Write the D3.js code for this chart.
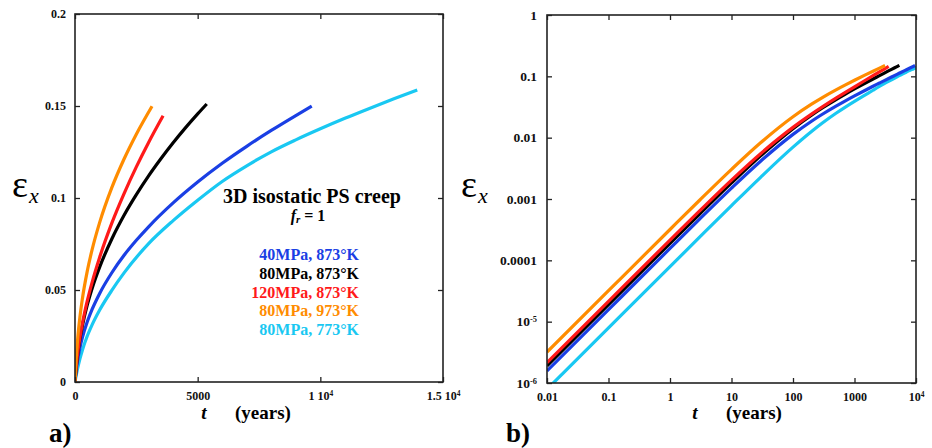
<!DOCTYPE html>
<html>
<head>
<meta charset="utf-8">
<script src="https://cdn.jsdelivr.net/npm/d3@7"></script>
<style>
  body { margin: 0; background: #fff; }
  svg text { font-family: "Liberation Serif", "Times New Roman", serif; }
</style>
</head>
<body>
<div id="chart"></div>
<script>
// ---- data (t in years, strain eps_x) ----
var seriesNames = ["40MPa, 873°K", "80MPa, 873°K", "120MPa, 873°K", "80MPa, 973°K", "80MPa, 773°K"];

var t40_873 = [0.01, 0.1, 1, 3, 10, 30, 100, 200, 300, 500, 700, 1000, 1500, 2000, 2500, 3000, 4000, 5000, 6000, 7000, 8000, 9000, 9650];
var eps40_873 = [1.57e-6, 1.57e-5, 1.563e-4, 4.65e-4, 1.503e-3, 4.17e-3, 0.01131, 0.01855, 0.02409, 0.03271, 0.03955, 0.0480, 0.05937, 0.06886, 0.0770, 0.08436, 0.09734, 0.1087, 0.1189, 0.1281, 0.1367, 0.1448, 0.1499];

var t80_873 = [0.01, 0.1, 1, 3, 10, 30, 100, 200, 300, 500, 700, 1000, 1500, 2000, 2500, 3000, 3500, 4000, 4500, 5000, 5370];
var eps80_873 = [1.9e-6, 1.9e-5, 1.892e-4, 5.63e-4, 1.826e-3, 5.10e-3, 0.01405, 0.0233, 0.0305, 0.0419, 0.0510, 0.0623, 0.0777, 0.0906, 0.1018, 0.1120, 0.1213, 0.1300, 0.1381, 0.1457, 0.1511];

var t120_873 = [0.01, 0.1, 1, 3, 10, 30, 100, 200, 300, 500, 700, 1000, 1500, 2000, 2500, 3000, 3590];
var eps120_873 = [2.15e-6, 2.15e-5, 2.137e-4, 6.33e-4, 2.03e-3, 5.53e-3, 0.0147, 0.02416, 0.03171, 0.04405, 0.05432, 0.06757, 0.08633, 0.1024, 0.1169, 0.1302, 0.1447];

var t80_973 = [0.01, 0.1, 1, 3, 10, 30, 100, 200, 300, 500, 700, 1000, 1500, 2000, 2500, 3140];
var eps80_973 = [3.2e-6, 3.2e-5, 3.183e-4, 9.45e-4, 3.04e-3, 8.33e-3, 0.02198, 0.03523, 0.04516, 0.06027, 0.07206, 0.08646, 0.1056, 0.1212, 0.1347, 0.1499];

var t80_773 = [0.01, 0.1, 1, 3, 10, 30, 100, 200, 300, 500, 700, 1000, 1500, 2000, 3000, 4000, 5000, 6000, 7000, 8000, 9000, 10000, 11000, 12000, 13000, 13950];
var eps80_773 = [7.9e-7, 7.9e-6, 7.89e-5, 2.36e-4, 7.8e-4, 2.28e-3, 7.0e-3, 0.0126, 0.0173, 0.0250, 0.0312, 0.0390, 0.0498, 0.0593, 0.0752, 0.0877, 0.0988, 0.1090, 0.1175, 0.1251, 0.1316, 0.1376, 0.1433, 0.1487, 0.1539, 0.1587];

// tick values / labels
var linXTicks = [0, 5000, 10000, 15000];
var linXLabels = ["0", "5000", "1 10^4", "1.5 10^4"];
var linYTicks = [0, 0.05, 0.1, 0.15, 0.2];
var linYLabels = ["0", "0.05", "0.1", "0.15", "0.2"];
var logXTicks = [0.01, 0.1, 1, 10, 100, 1000, 10000];
var logXLabels = ["0.01", "0.1", "1", "10", "100", "1000", "10^4"];
var logYTicks = [1e-6, 1e-5, 1e-4, 1e-3, 1e-2, 0.1, 1];
var logYLabels = ["10^-6", "10^-5", "0.0001", "0.001", "0.01", "0.1", "1"];

// styles (drawing order: cyan, blue, black, red, orange)
var seriesColors = ["#1a3fe4", "#000000", "#ff1a1a", "#ff8c00", "#19c8f2"];
var drawOrder = [4, 0, 1, 2, 3];
var FONT = "'Liberation Serif', 'Times New Roman', serif";

var seriesT = [t40_873, t80_873, t120_873, t80_973, t80_773];
var seriesEps = [eps40_873, eps80_873, eps120_873, eps80_973, eps80_773];
var series = seriesT.map(function (ts, i) {
    return { name: seriesNames[i], color: seriesColors[i],
             values: ts.map(function (t, j) { return { t: t, e: seriesEps[i][j] }; }) };
});

var svg = d3.select("#chart").append("svg")
    .attr("width", 932).attr("height", 448)
    .attr("font-family", FONT);
svg.append("rect").attr("width", 932).attr("height", 448).attr("fill", "#fff");

// write "a 10^b" style labels with a superscript
function supText(sel, str) {
    var parts = str.split("^");
    sel.text(null);
    sel.append("tspan").text(parts[0]);
    if (parts.length > 1) {
        sel.append("tspan").attr("dy", "-0.5em").attr("font-size", "0.62em").text(parts[1]);
    }
}

function drawPanel(opt) {
    var x = opt.x, y = opt.y;
    var x0 = x.range()[0], x1 = x.range()[1], y0 = y.range()[1], y1 = y.range()[0];
    var g = svg.append("g");

    g.append("clipPath").attr("id", opt.id + "-clip")
        .append("rect").attr("x", x0).attr("y", y0).attr("width", x1 - x0).attr("height", y1 - y0);

    var line = d3.line()
        .x(function (d) { return x(d.t); })
        .y(function (d) { return y(d.e); })
        .curve(d3.curveMonotoneX);

    var lines = g.append("g").attr("clip-path", "url(#" + opt.id + "-clip)");
    drawOrder.forEach(function (i) {
        var vals = opt.filter(series[i].values);
        lines.append("path")
            .attr("d", line(vals))
            .attr("fill", "none")
            .attr("stroke", series[i].color)
            .attr("stroke-width", 3.2)
            .attr("stroke-linejoin", "round");
    });

    // ticks on all four sides, pointing inward
    function tickAxis(axis, tr) {
        return g.append("g").attr("transform", tr)
            .call(axis.tickSizeInner(-5).tickSizeOuter(0))
            .attr("font-family", FONT)
            .call(function (s) { s.select(".domain").remove(); })
            .call(function (s) { s.selectAll("line").attr("stroke", "#222").attr("stroke-width", 1.3); });
    }
    var bottom = tickAxis(d3.axisBottom(x).tickValues(opt.xTicks).tickPadding(9), "translate(0," + y1 + ")");
    tickAxis(d3.axisTop(x).tickValues(opt.xTicks).tickFormat(""), "translate(0," + y0 + ")");
    var left = tickAxis(d3.axisLeft(y).tickValues(opt.yTicks).tickPadding(opt.yPad), "translate(" + x0 + ",0)");
    tickAxis(d3.axisRight(y).tickValues(opt.yTicks).tickFormat(""), "translate(" + x1 + ",0)");

    bottom.selectAll("text")
        .attr("font-size", opt.xFont).attr("font-weight", "bold").attr("fill", "#111")
        .each(function (d, i) { supText(d3.select(this), opt.xLabels[i]); });
    left.selectAll("text")
        .attr("font-size", opt.yFont).attr("font-weight", "bold").attr("fill", "#111")
        .each(function (d, i) { supText(d3.select(this), opt.yLabels[i]); });

    g.append("rect").attr("x", x0).attr("y", y0).attr("width", x1 - x0).attr("height", y1 - y0)
        .attr("fill", "none").attr("stroke", "#222").attr("stroke-width", 1.6);

    // y label: epsilon with subscript x
    var yl = g.append("text").attr("x", opt.epsX).attr("y", 197).attr("fill", "#000");
    yl.append("tspan").attr("font-size", 38).text("ε");
    yl.append("tspan").attr("font-size", 22).attr("font-style", "italic").attr("dy", 6).attr("dx", 1).text("x");

    // x label
    g.append("text").attr("x", opt.tX).attr("y", 419).attr("font-size", 19)
        .attr("font-weight", "bold").attr("font-style", "italic").attr("text-anchor", "middle").text("t");
    g.append("text").attr("x", opt.tX + 31).attr("y", 419).attr("font-size", 19)
        .attr("font-weight", "bold").text("(years)");

    g.append("text").attr("x", opt.tagX).attr("y", 442).attr("font-size", 27)
        .attr("font-weight", "bold").text(opt.tag);
    return g;
}

var xLin = d3.scaleLinear().domain([0, 15000]).range([75, 443]);
var yLin = d3.scaleLinear().domain([0, 0.2]).range([382, 14]);
var xLog = d3.scaleLog().domain([0.01, 1e4]).range([547, 916]);
var yLog = d3.scaleLog().domain([1e-6, 1]).range([383, 15]);

var panelA = drawPanel({
    id: "a", x: xLin, y: yLin,
    xTicks: linXTicks, xLabels: linXLabels, yTicks: linYTicks, yLabels: linYLabels,
    xFont: 12, yFont: 12, yPad: 9,
    // the early points all sit on t = 0 here, start the curve at the origin
    filter: function (v) { return [{ t: 0, e: 0 }].concat(v.filter(function (d) { return d.t >= 30; })); },
    epsX: 12, tX: 204, tagX: 49, tag: "a)"
});

var panelB = drawPanel({
    id: "b", x: xLog, y: yLog,
    xTicks: logXTicks, xLabels: logXLabels, yTicks: logYTicks, yLabels: logYLabels,
    xFont: 12, yFont: 13.5, yPad: 10,
    filter: function (v) { return v; },
    epsX: 461, tX: 695, tagX: 506, tag: "b)"
});

// annotation in panel a
var note = svg.append("g");
note.append("text").attr("x", 312).attr("y", 203).attr("text-anchor", "middle")
    .attr("font-size", 20).attr("font-weight", "bold").text("3D isostatic PS creep");
var fr = note.append("text").attr("x", 308).attr("y", 221).attr("text-anchor", "middle")
    .attr("font-size", 16).attr("font-weight", "bold");
fr.append("tspan").attr("font-style", "italic").text("f");
fr.append("tspan").attr("font-style", "italic").attr("font-size", 11).attr("dy", 2).text("r");
fr.append("tspan").attr("dy", -2).text(" = 1");

var legendY = d3.scaleLinear().domain([0, 4]).range([260, 335]);
note.selectAll(".leg").data(series).enter().append("text")
    .attr("class", "leg")
    .attr("x", 359)
    .attr("y", function (d, i) { return legendY(i); })
    .attr("text-anchor", "end")
    .attr("font-size", 16).attr("font-weight", "bold")
    .attr("fill", function (d) { return d.color; })
    .text(function (d) { return d.name; });
</script>
</body>
</html>
